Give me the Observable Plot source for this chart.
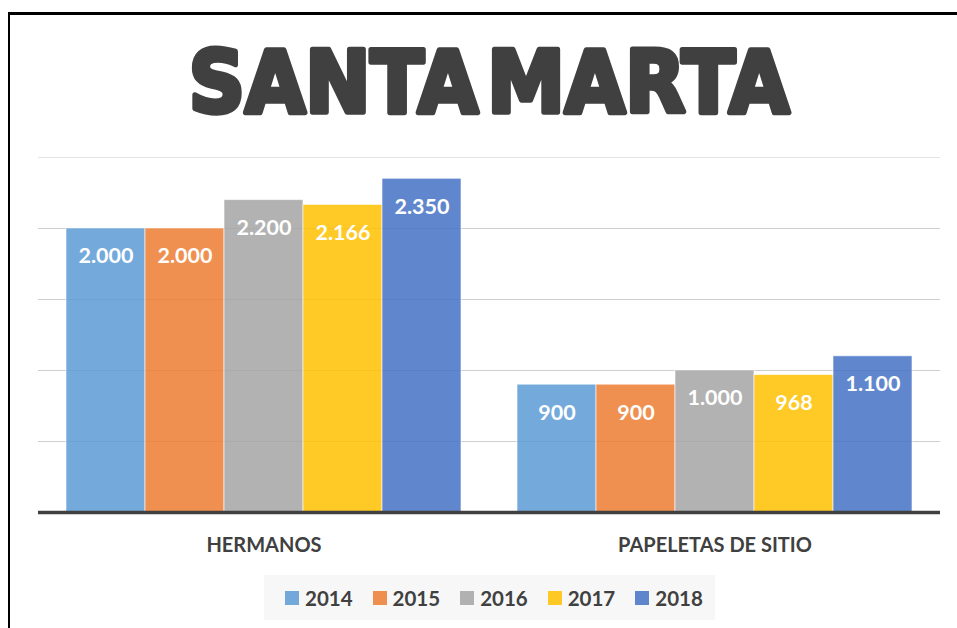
<!DOCTYPE html>
<html>
<head>
<meta charset="utf-8">
<script src="https://cdn.jsdelivr.net/npm/d3@7"></script>
<script src="https://cdn.jsdelivr.net/npm/@observablehq/plot@0.6"></script>
<style>
  html, body { margin: 0; padding: 0; background: #fff; }
  #wrap { position: relative; width: 957px; height: 628px; overflow: hidden; background: #fff; font-family: Lato, "Open Sans", sans-serif; }
  #frame { position: absolute; left: 8px; top: 12px; right: -10px; bottom: -10px; border-top: 3px solid #000; border-left: 2px solid #000; }
  #title { position: absolute; left: 0; top: 20px; }
  #chart { position: absolute; left: 0; top: 140px; }
  #legend { position: absolute; left: 264px; top: 575px; width: 451px; height: 45px; background: #f7f7f7;
            display: flex; align-items: center; padding-left: 21px; box-sizing: border-box; }
  .item { display: flex; align-items: center; margin-right: 20px; }
  .sw { width: 14px; height: 14px; margin-right: 6px; }
  .lab { font-family: Lato, sans-serif; font-weight: 700; font-size: 20.5px; color: #404040; }
</style>
</head>
<body>
<div id="wrap">
  <div id="frame"></div>
  <svg id="title" width="957" height="120">
    <g transform="translate(489,92) scale(1,1.09)">
      <text x="0" y="0" text-anchor="middle" word-spacing="-18"
        font-family="DejaVu Sans" font-weight="bold" font-size="78" fill="#404040"
        stroke="#404040" stroke-width="5" stroke-linejoin="round" paint-order="stroke">SANTA MARTA</text>
    </g>
  </svg>
  <div id="chart"></div>
  <div id="legend"></div>
</div>
<script>
const categories = ["HERMANOS", "PAPELETAS DE SITIO"];
const years = ["2014", "2015", "2016", "2017", "2018"];
const hermanos = [2000, 2000, 2200, 2166, 2350];
const papeletas = [900, 900, 1000, 968, 1100];
const colors = ["#5B9BD5", "#ED7D31", "#A5A5A5", "#FFC000", "#4472C4"];
const gridTicks = [500, 1000, 1500, 2000];
const topTick = [2500];

const table = [];
years.forEach((y, i) => table.push({cat: categories[0], year: y, value: hermanos[i]}));
years.forEach((y, i) => table.push({cat: categories[1], year: y, value: papeletas[i]}));

const loc = d3.formatLocale({decimal: ",", thousands: ".", grouping: [3], currency: ["", "€"]});
const fmt = loc.format(",");

const chart = Plot.plot({
  width: 957,
  height: 420,
  marginLeft: 38,
  marginRight: 17,
  marginTop: 17,
  marginBottom: 48,
  style: {fontFamily: "Lato, sans-serif", background: "transparent"},
  fx: {domain: categories, axis: null, paddingInner: 0, paddingOuter: 0},
  x: {domain: years, axis: null, paddingInner: 0, paddingOuter: 0.32},
  y: {domain: [0, 2500], axis: null},
  color: {domain: years, range: colors},
  marks: [
    Plot.ruleY(gridTicks, {stroke: "#cfcfcf", strokeWidth: 1}),
    Plot.ruleY(topTick, {stroke: "#e4e4e4", strokeWidth: 1}),
    Plot.barY(table, {fx: "cat", x: "year", y: "value", fill: "year", fillOpacity: 0.85,
      stroke: "#ffffff", strokeOpacity: 0.6, strokeWidth: 1}),
    Plot.text(table, {fx: "cat", x: "year", y: "value", text: d => fmt(d.value), dy: 28,
      fill: "white", fontSize: 21.5, fontWeight: "bold", lineAnchor: "middle"}),
    Plot.ruleY([0], {stroke: "#404040", strokeWidth: 3.5}),
    Plot.text(categories, {fx: d => d, text: d => d, frameAnchor: "bottom", dy: 33,
      fill: "#404040", fontSize: 20, fontWeight: "bold", lineAnchor: "middle"})
  ]
});
document.getElementById("chart").appendChild(chart);

const legend = document.getElementById("legend");
years.forEach((y, i) => {
  const it = document.createElement("div");
  it.className = "item";
  const sw = document.createElement("div");
  sw.className = "sw";
  sw.style.background = colors[i];
  sw.style.opacity = 0.85;
  const lab = document.createElement("span");
  lab.className = "lab";
  lab.textContent = y;
  it.appendChild(sw);
  it.appendChild(lab);
  legend.appendChild(it);
});
</script>
</body>
</html>
